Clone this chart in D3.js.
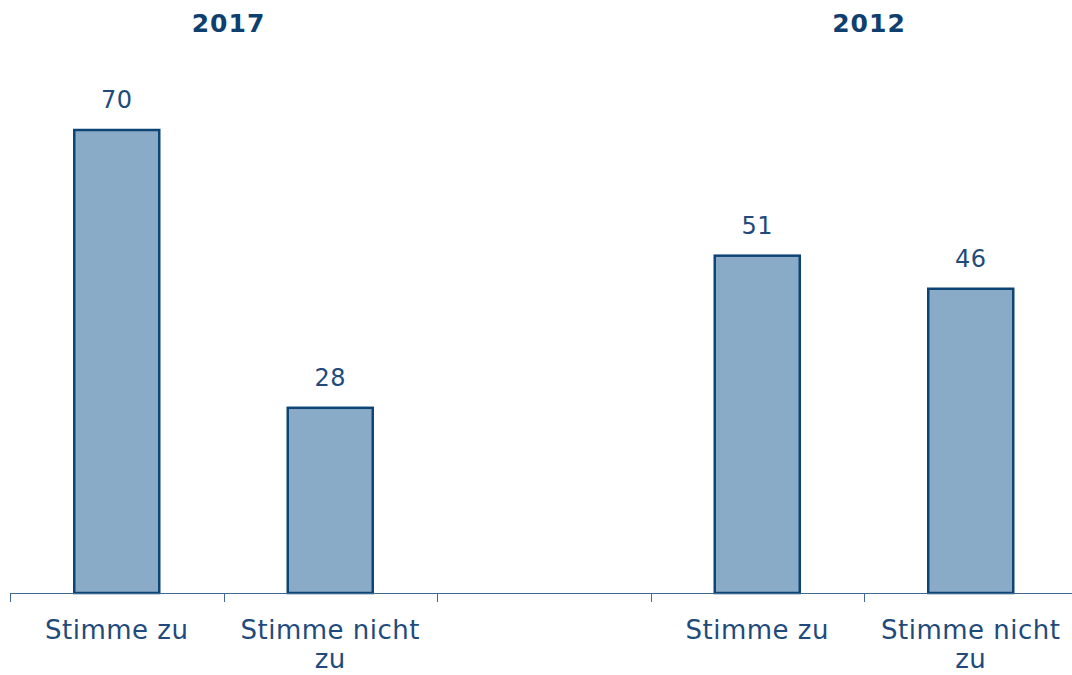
<!DOCTYPE html>
<html>
<head>
<meta charset="utf-8">
<script src="https://cdn.jsdelivr.net/npm/d3@7"></script>
<style>
  body { margin: 0; background: #fff; }
  text { font-family: "DejaVu Sans", Verdana, sans-serif; }
</style>
</head>
<body>
<div id="chart"></div>
<script>
// data
const years = ["2017", "2012"];
const answers = ["Stimme zu", "Stimme nicht zu"];
const values2017 = [70, 28];
const values2012 = [51, 46];

// build one row per bar, with an empty slot between the two years
let rows = [];
years.forEach(function(year, i) {
  let vals = i === 0 ? values2017 : values2012;
  answers.forEach(function(a, j) {
    rows.push({ key: year + "|" + a, year: year, label: a, value: vals[j] });
  });
});
const slots = [rows[0].key, rows[1].key, "gap", rows[2].key, rows[3].key];

const width = 1072;
const height = 675;
const baseY = 593;

const svg = d3
  .select("#chart")
  .append("svg")
  .attr("width", width)
  .attr("height", height);

const x = d3
  .scaleBand()
  .domain(slots)
  .range([10, 1077.5])
  .paddingInner(0)
  .paddingOuter(0);

const y = d3
  .scaleLinear()
  .domain([0, 70])
  .range([baseY, 130]);

const barW = 85;

// bars
svg
  .selectAll(".bar")
  .data(rows)
  .enter()
  .append("rect")
  .attr("class", "bar")
  .attr("x", d => x(d.key) + x.bandwidth() / 2 - barW / 2)
  .attr("y", d => y(d.value))
  .attr("width", barW)
  .attr("height", d => baseY - y(d.value))
  .style("fill", "#8aabc8")
  .style("stroke", "#0c4476")
  .style("stroke-width", 2.5);

// value labels
svg
  .selectAll(".val")
  .data(rows)
  .enter()
  .append("text")
  .attr("class", "val")
  .attr("x", d => x(d.key) + x.bandwidth() / 2)
  .attr("y", d => y(d.value) - 22)
  .attr("text-anchor", "middle")
  .style("font-size", "24px")
  .style("letter-spacing", "0.5px")
  .style("fill", "#1f4b7c")
  .text(d => d.value);

// axis line and ticks at band edges
svg
  .append("line")
  .attr("x1", 10)
  .attr("x2", width)
  .attr("y1", baseY + 0.5)
  .attr("y2", baseY + 0.5)
  .style("stroke", "#3f6790")
  .style("stroke-width", 1);

svg
  .selectAll(".tick")
  .data(slots)
  .enter()
  .append("line")
  .attr("class", "tick")
  .attr("x1", d => Math.round(x(d)) + 0.5)
  .attr("x2", d => Math.round(x(d)) + 0.5)
  .attr("y1", baseY)
  .attr("y2", baseY + 9)
  .style("stroke", "#3f6790")
  .style("stroke-width", 1);

// category labels, wrapped by hand when too wide
const catLabels = svg
  .selectAll(".cat")
  .data(rows)
  .enter()
  .append("text")
  .attr("class", "cat")
  .attr("text-anchor", "middle")
  .style("font-size", "26px")
  .style("letter-spacing", "0.5px")
  .style("fill", "#1f4b7c");

catLabels.each(function(d) {
  let words = d.label.split(" ");
  let lines = words.length > 2 ? [words.slice(0, 2).join(" "), words.slice(2).join(" ")] : [d.label];
  let t = d3.select(this);
  lines.forEach(function(line, i) {
    t.append("tspan")
      .attr("x", x(d.key) + x.bandwidth() / 2)
      .attr("y", 639 + i * 29)
      .text(line);
  });
});

// year titles over each pair
svg
  .selectAll(".year")
  .data(years)
  .enter()
  .append("text")
  .attr("class", "year")
  .attr("x", function(d) {
    let keys = rows.filter(r => r.year === d).map(r => r.key);
    return (x(keys[0]) + x(keys[1]) + x.bandwidth()) / 2 + 5;
  })
  .attr("y", 32)
  .attr("text-anchor", "middle")
  .style("font-size", "25px")
  .style("font-weight", "bold")
  .style("letter-spacing", "1px")
  .style("fill", "#0e3f6f")
  .text(d => d);
</script>
</body>
</html>
